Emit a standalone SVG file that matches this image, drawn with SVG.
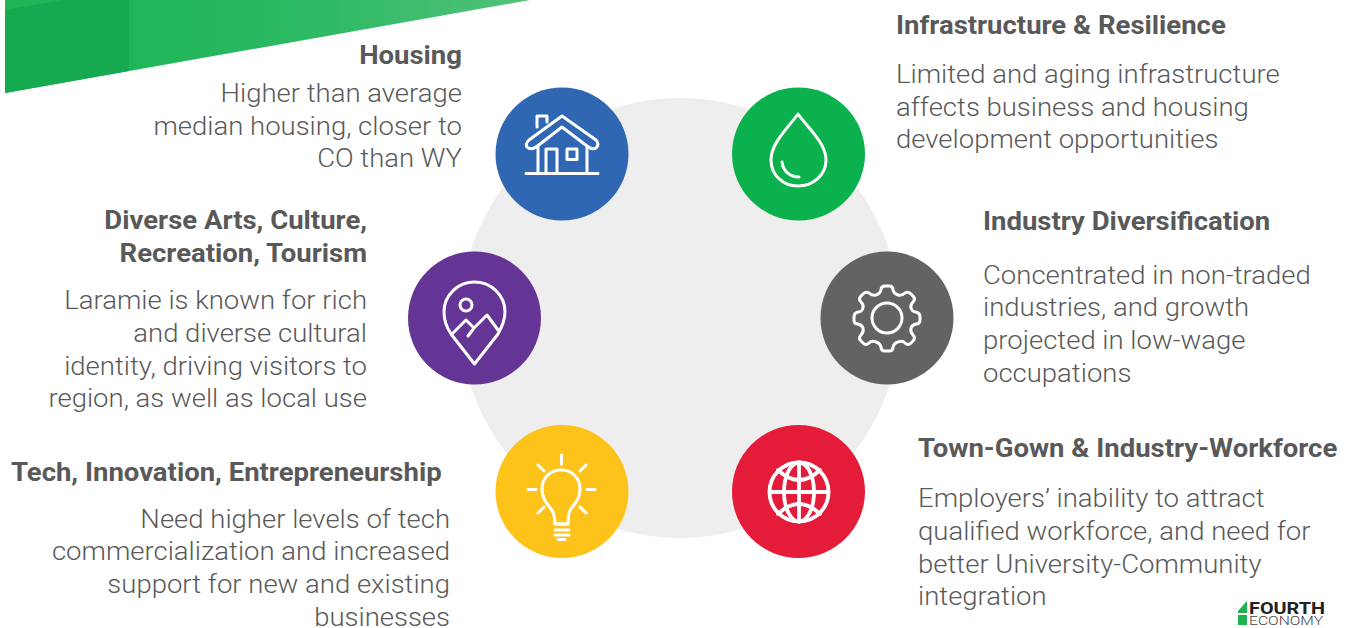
<svg xmlns="http://www.w3.org/2000/svg" width="1350" height="628" viewBox="0 0 1350 628">
<style>
text{font-family:Roboto,"Liberation Sans",sans-serif}
.h{font-size:26px;font-weight:700;fill:#595959}
.b{font-size:26px;font-weight:300;fill:#595959}
.e{text-anchor:end}
.i{fill:none;stroke:#fff;stroke-width:3;stroke-linecap:round;stroke-linejoin:round}
</style>
<defs>
<linearGradient id="g" gradientUnits="userSpaceOnUse" x1="129" x2="530" y1="0" y2="0"><stop offset="0" stop-color="#1fb658"/><stop offset=".5" stop-color="#2fba66"/><stop offset="1" stop-color="#52c278"/></linearGradient>
</defs>
<rect width="1350" height="628" fill="#fff"/>
<g id="banner"><polygon points="5,0 530,0 5,93" fill="url(#g)"/><polygon points="5,10 62,0 129,0 129,71 5,93" fill="#15aa50"/></g>
<circle id="hub" cx="680" cy="318" r="220" fill="#eeeeee"/>
<g id="connectors"/>
<g id="housing">
<circle cx="562" cy="154" r="66.500" fill="#2f67b2"/>
<path class="i" d="M526 173.500H598M538 173.500V147M587 147V173.500M537.500 146L562 127L587 146Q592 150 596 148Q600 144 596 140L562 116L529 140Q525 144 527 147Q531 151 537.500 146ZM537 127V116H547V122M546 149H557V173.500H546ZM567 149H577V159.500H567Z"/>
<text class="h e" transform="translate(462 64) scale(1.058 1)">Housing</text>
<text class="b e" transform="translate(462 102) scale(1.058 1)">Higher than average</text>
<text class="b e" transform="translate(462 135) scale(1.058 1)">median housing, closer to</text>
<text class="b e" transform="translate(462 167) scale(1.058 1)">CO than WY</text>
</g>
<g id="infrastructure">
<circle cx="798.500" cy="154" r="66.500" fill="#0bb14d"/>
<path class="i" d="M798 114C788 128 771 143 771 160C771 175 783 186 798 186C813 186 826 175 826 160C826 143 808 128 798 114Z"/>
<path class="i" d="M782 162C783 171 790 177 799 177"/>
<text class="h" transform="translate(896 34) scale(1.058 1)">Infrastructure &amp; Resilience</text>
<text class="b" transform="translate(896 83) scale(1.058 1)">Limited and aging infrastructure</text>
<text class="b" transform="translate(896 116) scale(1.058 1)">affects business and housing</text>
<text class="b" transform="translate(896 148) scale(1.058 1)">development opportunities</text>
</g>
<g id="arts">
<circle cx="474.500" cy="318" r="66.500" fill="#643594"/>
<path class="i" d="M474.500 364L451 334C445 325 444 318 444 312C444 295 458 282 474.500 282C491 282 505 295 505 312C505 318 503 325 498 334Z"/>
<circle class="i" cx="466" cy="305" r="6"/>
<path class="i" d="M453 333L466 320L474 328L468 336M474 328L487 315L498 330"/>
<text class="h e" transform="translate(367 229) scale(1.058 1)">Diverse Arts, Culture,</text>
<text class="h e" transform="translate(367 262) scale(1.058 1)">Recreation, Tourism</text>
<text class="b e" transform="translate(367 309) scale(1.058 1)">Laramie is known for rich</text>
<text class="b e" transform="translate(367 342) scale(1.058 1)">and diverse cultural</text>
<text class="b e" transform="translate(367 375) scale(1.058 1)">identity, driving visitors to</text>
<text class="b e" transform="translate(367 407) scale(1.058 1)">region, as well as local use</text>
</g>
<g id="industry">
<circle cx="887" cy="318" r="66.500" fill="#636363"/>
<circle class="i" cx="887" cy="318" r="15"/>
<path class="i" transform="translate(1 0)" d="M880 290Q880 286 884 286H888Q892 286 892 290Q893 294 897 295Q901 296 904 293Q907 291 910 294L912 296Q915 299 912 302Q909 305 910 308Q911 312 915 312Q919 313 919 317V320Q919 324 915 324Q911 325 910 328Q909 332 912 335Q915 338 912 341L910 343Q907 346 904 343Q901 340 897 342Q893 343 892 347Q892 351 888 351H884Q880 351 880 347Q879 343 875 342Q871 340 868 343Q865 346 862 343L860 341Q857 338 860 335Q863 332 862 328Q861 325 857 324Q853 324 853 320V317Q853 313 857 312Q861 312 862 308Q863 305 860 302Q857 299 860 296L862 294Q865 291 868 293Q871 296 875 295Q879 294 880 290Z"/>
<text class="h" transform="translate(983 230) scale(1.058 1)">Industry Diversification</text>
<text class="b" transform="translate(983 284) scale(1.058 1)">Concentrated in non-traded</text>
<text class="b" transform="translate(983 316) scale(1.058 1)">industries, and growth</text>
<text class="b" transform="translate(983 349) scale(1.058 1)">projected in low-wage</text>
<text class="b" transform="translate(983 382) scale(1.058 1)">occupations</text>
</g>
<g id="tech">
<circle cx="562" cy="491.500" r="66.500" fill="#fec31a"/>
<path class="i" d="M555 524C555 512 551 509 548 505C543 499 542 495 542 489C542 478 550 470 561 470C573 470 580 479 580 489C580 495 578 500 574 505C570 509 568 513 568 524Z"/>
<path class="i" d="M555 524H568M555 530H569M555 535H569M558 539.500H565M561.500 455V464M538 465L544 471M586 465L580 471M528 489.500H536M587 489.500H595M538 513L544 507M586 513L580 507"/>
<text class="h" transform="translate(11 481) scale(1.058 1)">Tech, Innovation, Entrepreneurship</text>
<text class="b e" transform="translate(450 528) scale(1.058 1)">Need higher levels of tech</text>
<text class="b e" transform="translate(450 560) scale(1.058 1)">commercialization and increased</text>
<text class="b e" transform="translate(450 593) scale(1.058 1)">support for new and existing</text>
<text class="b e" transform="translate(450 626) scale(1.058 1)">businesses</text>
</g>
<g id="town">
<circle cx="798.500" cy="491.500" r="66.500" fill="#e41b39"/>
<g class="i" style="stroke-width:3.800">
<circle cx="799" cy="492" r="29.500"/>
<ellipse cx="799" cy="492" rx="15" ry="29.500"/>
<path d="M799 462.500V521.500M769.500 492H828.500M778 470Q799 490 820 470M778 514Q799 494 820 514"/>
</g>
<text class="h" transform="translate(918 457) scale(1.058 1)">Town-Gown &amp; Industry-Workforce</text>
<text class="b" transform="translate(918 507) scale(1.058 1)">Employers’ inability to attract</text>
<text class="b" transform="translate(918 540) scale(1.058 1)">qualified workforce, and need for</text>
<text class="b" transform="translate(918 573) scale(1.058 1)">better University-Community</text>
<text class="b" transform="translate(918 605) scale(1.058 1)">integration</text>
</g>
<g id="logo">
<polygon points="1247,601 1238,611 1238,613 1247,613" fill="#1fb24f"/>
<polygon points="1238,615 1247,615 1247,625 1238,625" fill="#1fb24f"/>
<text x="1249" y="614" font-size="17" font-weight="700" fill="#222" textLength="76" lengthAdjust="spacingAndGlyphs">FOURTH</text>
<text x="1249" y="625" font-size="13" font-weight="300" fill="#444" textLength="74" lengthAdjust="spacingAndGlyphs">ECONOMY</text>
</g>
</svg>
